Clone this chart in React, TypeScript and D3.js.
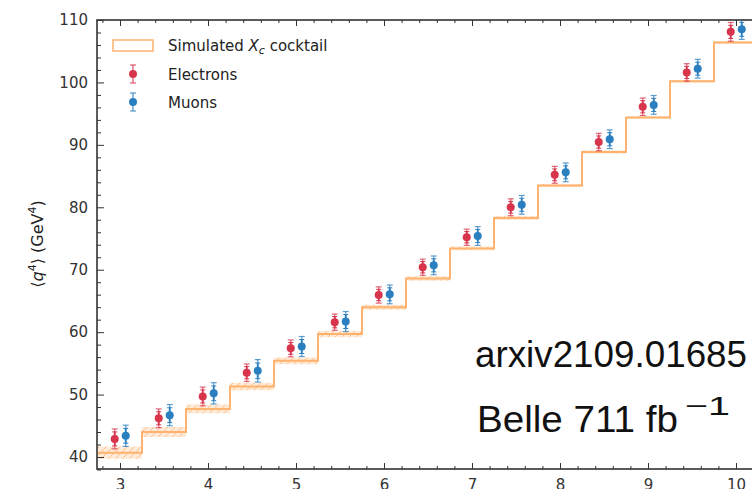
import React, { useEffect, useRef } from "react";
import * as d3 from "d3";

const q2min = [3.0, 3.5, 4.0, 4.5, 5.0, 5.5, 6.0, 6.5, 7.0, 7.5, 8.0, 8.5, 9.0, 9.5, 10.0];
const cocktail = [40.7, 44.0, 47.7, 51.3, 55.4, 59.7, 64.0, 68.6, 73.4, 78.3, 83.5, 88.85, 94.4, 100.2, 106.4];
const cocktailErr = [1.0, 0.8, 0.7, 0.6, 0.55, 0.5, 0.4, 0.35, 0.3, 0.3, 0.25, 0.25, 0.2, 0.2, 0.2];
const electrons = [42.9, 46.2, 49.7, 53.5, 57.4, 61.6, 65.95, 70.4, 75.2, 80.0, 85.2, 90.45, 96.1, 101.6, 108.1];
const electronErr = [1.6, 1.5, 1.5, 1.4, 1.35, 1.3, 1.3, 1.3, 1.3, 1.35, 1.35, 1.4, 1.4, 1.4, 1.5];
const muons = [43.4, 46.7, 50.2, 53.8, 57.7, 61.7, 66.05, 70.7, 75.4, 80.4, 85.6, 90.9, 96.4, 102.2, 108.5];
const muonErr = [1.7, 1.7, 1.7, 1.8, 1.6, 1.6, 1.5, 1.5, 1.5, 1.5, 1.5, 1.5, 1.5, 1.5, 1.6];
const xMajor = [3, 4, 5, 6, 7, 8, 9, 10];
const yMajor = [40, 50, 60, 70, 80, 90, 100, 110];

const W = 752, H = 489;
const L = 97, R = 759, T = 20, B = 469;
const ORANGE_LINE = "#ffb36e";
const RED = "#d8344c";
const BLUE = "#2a7fc0";
const AX = "#333333";

export default function App() {
  const ref = useRef<SVGSVGElement | null>(null);
  useEffect(() => {
    const svg = d3.select(ref.current);
    svg.selectAll("*").remove();
    const x = d3.scaleLinear().domain([3, 10]).range([120, 736]);
    const y = d3.scaleLinear().domain([40, 110]).range([457, 20]);

    const defs = svg.append("defs");
    const pat = defs.append("pattern").attr("id", "hatch").attr("patternUnits", "userSpaceOnUse")
      .attr("width", 7).attr("height", 7);
    pat.append("rect").attr("width", 7).attr("height", 7).attr("fill", "rgba(255,180,110,0.28)");
    pat.append("path").attr("d", "M-1,8 L8,-1 M-1,1 L1,-1 M6,8 L8,6").attr("stroke", "rgba(255,160,80,0.6)").attr("stroke-width", 0.9);
    defs.append("clipPath").attr("id", "plotclip").append("rect")
      .attr("x", L).attr("y", T).attr("width", R - L).attr("height", B - T);

    const g = svg.append("g").attr("clip-path", "url(#plotclip)");
    const edges = q2min.map((q) => q - 0.25);
    const stepPts: [number, number, number][] = q2min.map((q, i) => [edges[i], cocktail[i], cocktailErr[i]]);
    stepPts.push([q2min[q2min.length - 1] + 0.25, cocktail[cocktail.length - 1], cocktailErr[cocktailErr.length - 1]]);

    const area = d3.area<[number, number, number]>()
      .x((d) => x(d[0])).y0((d) => y(d[1] - d[2])).y1((d) => y(d[1] + d[2]))
      .curve(d3.curveStepAfter);
    g.append("path").attr("d", area(stepPts)).attr("fill", "url(#hatch)");
    const line = d3.line<[number, number, number]>()
      .x((d) => x(d[0])).y((d) => y(d[1])).curve(d3.curveStepAfter);
    g.append("path").attr("d", line(stepPts)).attr("fill", "none")
      .attr("stroke", ORANGE_LINE).attr("stroke-width", 2);

    const drawSeries = (vals: number[], errs: number[], off: number, color: string) => {
      const sg = g.append("g");
      q2min.forEach((q, i) => {
        const cx = x(q + off);
        const y0 = y(vals[i] - errs[i]), y1 = y(vals[i] + errs[i]);
        sg.append("line").attr("x1", cx).attr("x2", cx).attr("y1", y0).attr("y2", y1)
          .attr("stroke", color).attr("stroke-width", 1.2).attr("opacity", 0.75);
        [y0, y1].forEach((yy) => sg.append("line").attr("x1", cx - 3).attr("x2", cx + 3)
          .attr("y1", yy).attr("y2", yy).attr("stroke", color).attr("stroke-width", 1.2).attr("opacity", 0.75));
        const s0 = y(vals[i] - errs[i] * 0.7), s1 = y(vals[i] + errs[i] * 0.7);
        sg.append("line").attr("x1", cx).attr("x2", cx).attr("y1", s0).attr("y2", s1)
          .attr("stroke", color).attr("stroke-width", 1.8);
        [s0, s1].forEach((yy) => sg.append("line").attr("x1", cx - 2.5).attr("x2", cx + 2.5)
          .attr("y1", yy).attr("y2", yy).attr("stroke", color).attr("stroke-width", 1));
        sg.append("circle").attr("cx", cx).attr("cy", y(vals[i])).attr("r", 4).attr("fill", color);
      });
    };
    drawSeries(electrons, electronErr, -0.06, RED);
    drawSeries(muons, muonErr, 0.065, BLUE);

    // axes
    const xMinor = d3.range(2.8, 10.3, 0.2).map((v) => +v.toFixed(1)).filter((v) => Math.abs(v - Math.round(v)) > 1e-6);
    const yMinor = d3.range(38, 111, 2).filter((v) => v % 10 !== 0);
    const styleAxis = (sel: any) => {
      sel.select(".domain").remove();
      sel.selectAll(".tick line").attr("stroke", AX).attr("stroke-width", 1);
      sel.selectAll(".tick text").attr("fill", AX).attr("font-family", "DejaVu Sans").attr("font-size", 15);
    };
    const mk = (axis: any, tx: number, ty: number) =>
      svg.append("g").attr("transform", `translate(${tx},${ty})`).call(axis).call(styleAxis);

    mk(d3.axisBottom(x).tickValues(xMajor).tickSize(-6).tickPadding(10).tickFormat(d3.format("d")), 0, B);
    mk(d3.axisBottom(x).tickValues(xMinor).tickSize(-3).tickFormat(() => ""), 0, B);
    mk(d3.axisTop(x).tickValues(xMajor).tickSize(-6).tickFormat(() => ""), 0, T);
    mk(d3.axisTop(x).tickValues(xMinor).tickSize(-3).tickFormat(() => ""), 0, T);
    mk(d3.axisLeft(y).tickValues(yMajor).tickSize(-7).tickPadding(9).tickFormat(d3.format("d")), L, 0);
    mk(d3.axisLeft(y).tickValues(yMinor).tickSize(-4).tickFormat(() => ""), L, 0);
    mk(d3.axisRight(y).tickValues(yMajor).tickSize(-7).tickFormat(() => ""), R, 0);
    mk(d3.axisRight(y).tickValues(yMinor).tickSize(-4).tickFormat(() => ""), R, 0);

    svg.append("rect").attr("x", L).attr("y", T).attr("width", R - L).attr("height", B - T)
      .attr("fill", "none").attr("stroke", AX).attr("stroke-width", 1.6);

    // legend
    const lg = svg.append("g").attr("font-family", "DejaVu Sans").attr("font-size", 15).attr("fill", "#222");
    lg.append("rect").attr("x", 113).attr("y", 40).attr("width", 40).attr("height", 11)
      .attr("fill", "white").attr("stroke", ORANGE_LINE).attr("stroke-width", 1.5);
    const lt = lg.append("text").attr("x", 168).attr("y", 51);
    lt.append("tspan").text("Simulated ");
    lt.append("tspan").attr("font-style", "italic").text("X");
    lt.append("tspan").attr("font-style", "italic").attr("font-size", 11).attr("dy", 3).text("c");
    lt.append("tspan").attr("dy", -3).text(" cocktail");
    const legMark = (cy: number, color: string) => {
      lg.append("line").attr("x1", 133).attr("x2", 133).attr("y1", cy - 9).attr("y2", cy + 9)
        .attr("stroke", color).attr("stroke-width", 1.3).attr("opacity", 0.8);
      [cy - 9, cy + 9].forEach((yy) => lg.append("line").attr("x1", 130).attr("x2", 136)
        .attr("y1", yy).attr("y2", yy).attr("stroke", color).attr("stroke-width", 1.2).attr("opacity", 0.8));
      lg.append("circle").attr("cx", 133).attr("cy", cy).attr("r", 4).attr("fill", color);
    };
    legMark(74, RED);
    lg.append("text").attr("x", 168).attr("y", 80).text("Electrons");
    legMark(102, BLUE);
    lg.append("text").attr("x", 168).attr("y", 108).text("Muons");

    // y label
    const yl = svg.append("text").attr("transform", "translate(43,244) rotate(-90)")
      .attr("text-anchor", "middle").attr("font-family", "DejaVu Sans").attr("font-size", 16).attr("fill", "#222");
    yl.append("tspan").text("⟨");
    yl.append("tspan").attr("font-style", "italic").text("q");
    yl.append("tspan").attr("font-size", 11).attr("dy", -7).text("4");
    yl.append("tspan").attr("dy", 7).text("⟩ (GeV");
    yl.append("tspan").attr("font-size", 11).attr("dy", -7).text("4");
    yl.append("tspan").attr("dy", 7).text(")");

    // annotations
    svg.append("text").attr("x", 475).attr("y", 367).attr("font-family", "Liberation Sans")
      .attr("font-size", 36).attr("fill", "#111").attr("textLength", 272).attr("lengthAdjust", "spacingAndGlyphs")
      .text("arxiv2109.01685");
    svg.append("text").attr("x", 477).attr("y", 432).attr("font-family", "Liberation Sans")
      .attr("font-size", 36).attr("fill", "#111").attr("textLength", 201).attr("lengthAdjust", "spacingAndGlyphs")
      .text("Belle 711 fb");
    svg.append("text").attr("x", 685).attr("y", 415).attr("font-family", "Liberation Sans")
      .attr("font-size", 26).attr("fill", "#111").attr("textLength", 45).attr("lengthAdjust", "spacingAndGlyphs")
      .text("−1");
  }, []);
  return (
    <svg ref={ref} width={W} height={H} style={{ position: "absolute", left: 0, top: 0, background: "white" }} />
  );
}
